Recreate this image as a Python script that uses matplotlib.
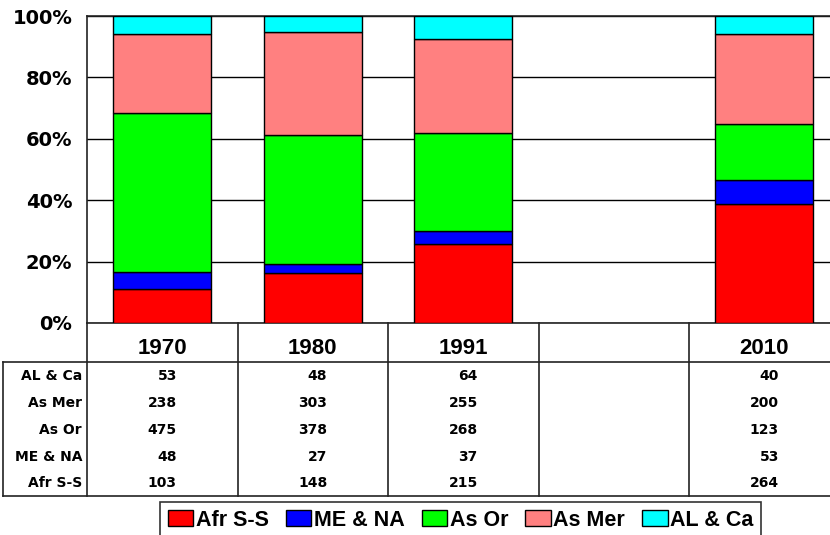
import numpy as np
import matplotlib
matplotlib.use("Agg")
import matplotlib.pyplot as plt
from matplotlib.lines import Line2D
from matplotlib.transforms import blended_transform_factory

plt.rcParams['font.family'] = ['Liberation Sans', 'DejaVu Sans']
plt.rcParams['font.weight'] = 'bold'
ANCHA = ['DejaVu Sans']

# datos
anios = ["1970", "1980", "1991", "", "2010"]
afr_ss = [103, 148, 215, np.nan, 264]
me_na = [48, 27, 37, np.nan, 53]
as_or = [475, 378, 268, np.nan, 123]
as_mer = [238, 303, 255, np.nan, 200]
al_ca = [53, 48, 64, np.nan, 40]

series = [("Afr S-S", afr_ss, "#FF0000"),
          ("ME & NA", me_na, "#0000FF"),
          ("As Or", as_or, "#00FF00"),
          ("As Mer", as_mer, "#FF8080"),
          ("AL & Ca", al_ca, "#00FFFF")]

W, H = 830, 535
fig = plt.figure(figsize=(W / 100, H / 100), dpi=100)

def fy(py):
    return 1 - py / H

def fx(px):
    return px / W

col_w = 150.5
x_left = 87
ax_top, ax_bot = 16, 323
n = len(anios)
ax = fig.add_axes([fx(x_left), fy(ax_bot), fx(col_w * n), fy(ax_top) - fy(ax_bot)])

tabla = np.array([s[1] for s in series], dtype=float)
totales = np.nansum(tabla, axis=0)
validos = ~np.isnan(tabla[0])
x = np.arange(n)[validos]
base = np.zeros(validos.sum())
for nombre, vals, color in series:
    v = np.array(vals, dtype=float)[validos]
    pct = v / totales[validos] * 100
    ax.bar(x, pct, 0.65, bottom=base, color=color, edgecolor="black",
           linewidth=1.0, label=nombre, zorder=3)
    base = base + pct

ax.set_xlim(-0.5, n - 0.5)
ax.set_ylim(0, 100)
ax.set_yticks([0, 20, 40, 60, 80, 100])
ax.set_yticklabels([f"{v}%" for v in [0, 20, 40, 60, 80, 100]],
                   fontsize=14, fontweight='bold', family=ANCHA)
ax.tick_params(axis='y', length=0, pad=10.5)
ax.set_xticks([])
ax.grid(axis='y', color='black', linewidth=1.0, zorder=0)
for s in ax.spines.values():
    s.set_linewidth(1.2)
    s.set_color('#222222')

# tabla de datos
tr = blended_transform_factory(ax.transData, fig.transFigure)
row_top, row_bot = 362, 495.7
row_h = (row_bot - row_top) / 5

for i in range(n):
    xe = i - 0.5
    fig.add_artist(Line2D([xe, xe], [fy(ax_bot), fy(row_bot)], transform=tr,
                          color='#222222', linewidth=1.2, clip_on=False))
fig.add_artist(Line2D([fx(3), fx(3)], [fy(row_top), fy(row_bot)],
                      transform=fig.transFigure, color='#222222', linewidth=1.2))
for yy in (row_top, row_bot):
    fig.add_artist(Line2D([fx(3), 1.0], [fy(yy), fy(yy)],
                          transform=fig.transFigure, color='#222222', linewidth=1.2))

for i, a in enumerate(anios):
    fig.text(i, fy(349), a, transform=tr, ha='center', va='center',
             fontsize=16, fontweight='bold')

filas = list(reversed(series))
for r, (nombre, vals, color) in enumerate(filas):
    yc = fy(row_top + (r + 0.5) * row_h + 1)
    fig.text(fx(82), yc, nombre, ha='right', va='center', fontsize=10,
             fontweight='bold', family=ANCHA)
    for i, v in enumerate(vals):
        if np.isnan(v):
            continue
        fig.text(i + 0.097, yc, f"{int(v)}", transform=tr, ha='right',
                 va='center', fontsize=10, fontweight='bold', family=ANCHA)

leg = fig.legend(loc='upper left', bbox_to_anchor=(fx(160), fy(502)),
                 bbox_transform=fig.transFigure, ncol=5, frameon=True,
                 fancybox=False, edgecolor='black', borderaxespad=0,
                 prop={'size': 15.5, 'weight': 'bold'}, handlelength=1.2,
                 handleheight=0.72, handletextpad=0.1, columnspacing=0.8,
                 borderpad=0.35)
leg.get_frame().set_linewidth(1.2)

fig.savefig("out.png", dpi=100)
